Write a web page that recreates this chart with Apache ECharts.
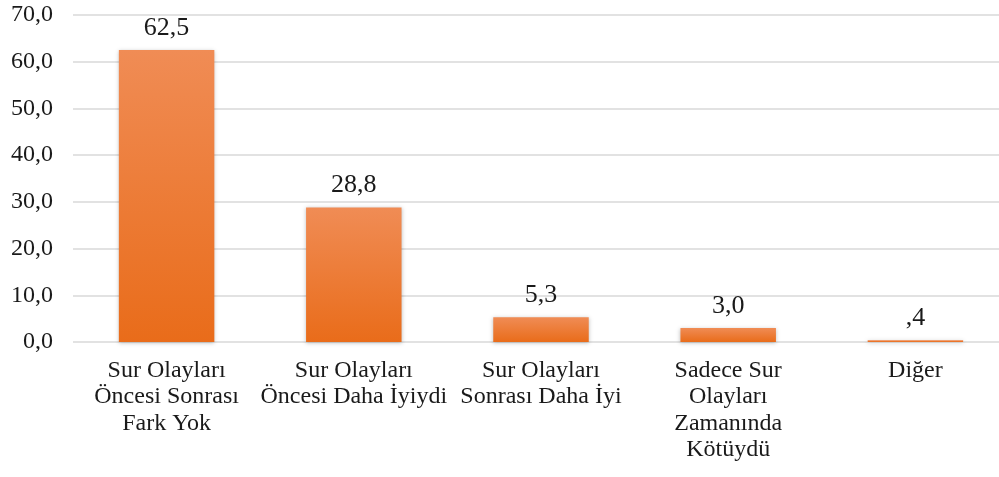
<!DOCTYPE html>
<html>
<head>
<meta charset="utf-8">
<script src="https://cdn.jsdelivr.net/npm/echarts@6/dist/echarts.min.js"></script>
<style>
  html, body { margin: 0; padding: 0; background: #fff; }
  #chart { width: 999px; height: 477px; }
</style>
</head>
<body>
<div id="chart"></div>
<script>
const categories = [
  'Sur Olayları\nÖncesi Sonrası\nFark Yok',
  'Sur Olayları\nÖncesi Daha İyiydi',
  'Sur Olayları\nSonrası Daha İyi',
  'Sadece Sur\nOlayları\nZamanında\nKötüydü',
  'Diğer'
]
const values = [62.5, 28.8, 5.3, 3.0, 0.4]
const yTicks = [0, 10, 20, 30, 40, 50, 60, 70]

// Turkish style: comma decimal, leading zero dropped for values below 1
const fmt = v => {
  const s = v.toFixed(1).replace('.', ',')
  return s.startsWith('0,') && v !== 0 ? s.slice(1) : s
}

const chart = echarts.init(document.getElementById('chart'))
chart.setOption({
  animation: false,
  textStyle: { fontFamily: 'Liberation Serif' },
  grid: { left: 73, width: 936, top: 15, bottom: 135, outerBoundsMode: 'none' },
  xAxis: {
    type: 'category',
    data: categories,
    axisLine: { show: false },
    axisTick: { show: false },
    axisLabel: {
      interval: 0,
      color: '#1a1a1a',
      fontSize: 24,
      lineHeight: 26.5,
      margin: 15,
      fontFamily: 'Liberation Serif'
    }
  },
  yAxis: {
    type: 'value',
    min: yTicks[0],
    max: yTicks[yTicks.length - 1],
    interval: 10,
    axisLine: { show: false },
    axisTick: { show: false },
    splitLine: { lineStyle: { color: '#d9d9d9', width: 1.5 } },
    axisLabel: {
      color: '#1a1a1a',
      fontSize: 24,
      margin: 20,
      fontFamily: 'Liberation Serif',
      formatter: v => v.toFixed(1).replace('.', ',')
    }
  },
  series: [{
    type: 'bar',
    data: values,
    barWidth: '51%',
    itemStyle: {
      color: new echarts.graphic.LinearGradient(0, 0, 0, 1, [
        { offset: 0, color: '#f08c55' },
        { offset: 1, color: '#e96c1a' }
      ]),
      shadowColor: 'rgba(0,0,0,0.25)',
      shadowBlur: 4,
      shadowOffsetY: 1
    },
    label: {
      show: true,
      position: 'top',
      distance: 9,
      color: '#1a1a1a',
      fontSize: 26,
      fontFamily: 'Liberation Serif',
      formatter: p => fmt(p.value)
    }
  }]
})
</script>
</body>
</html>
